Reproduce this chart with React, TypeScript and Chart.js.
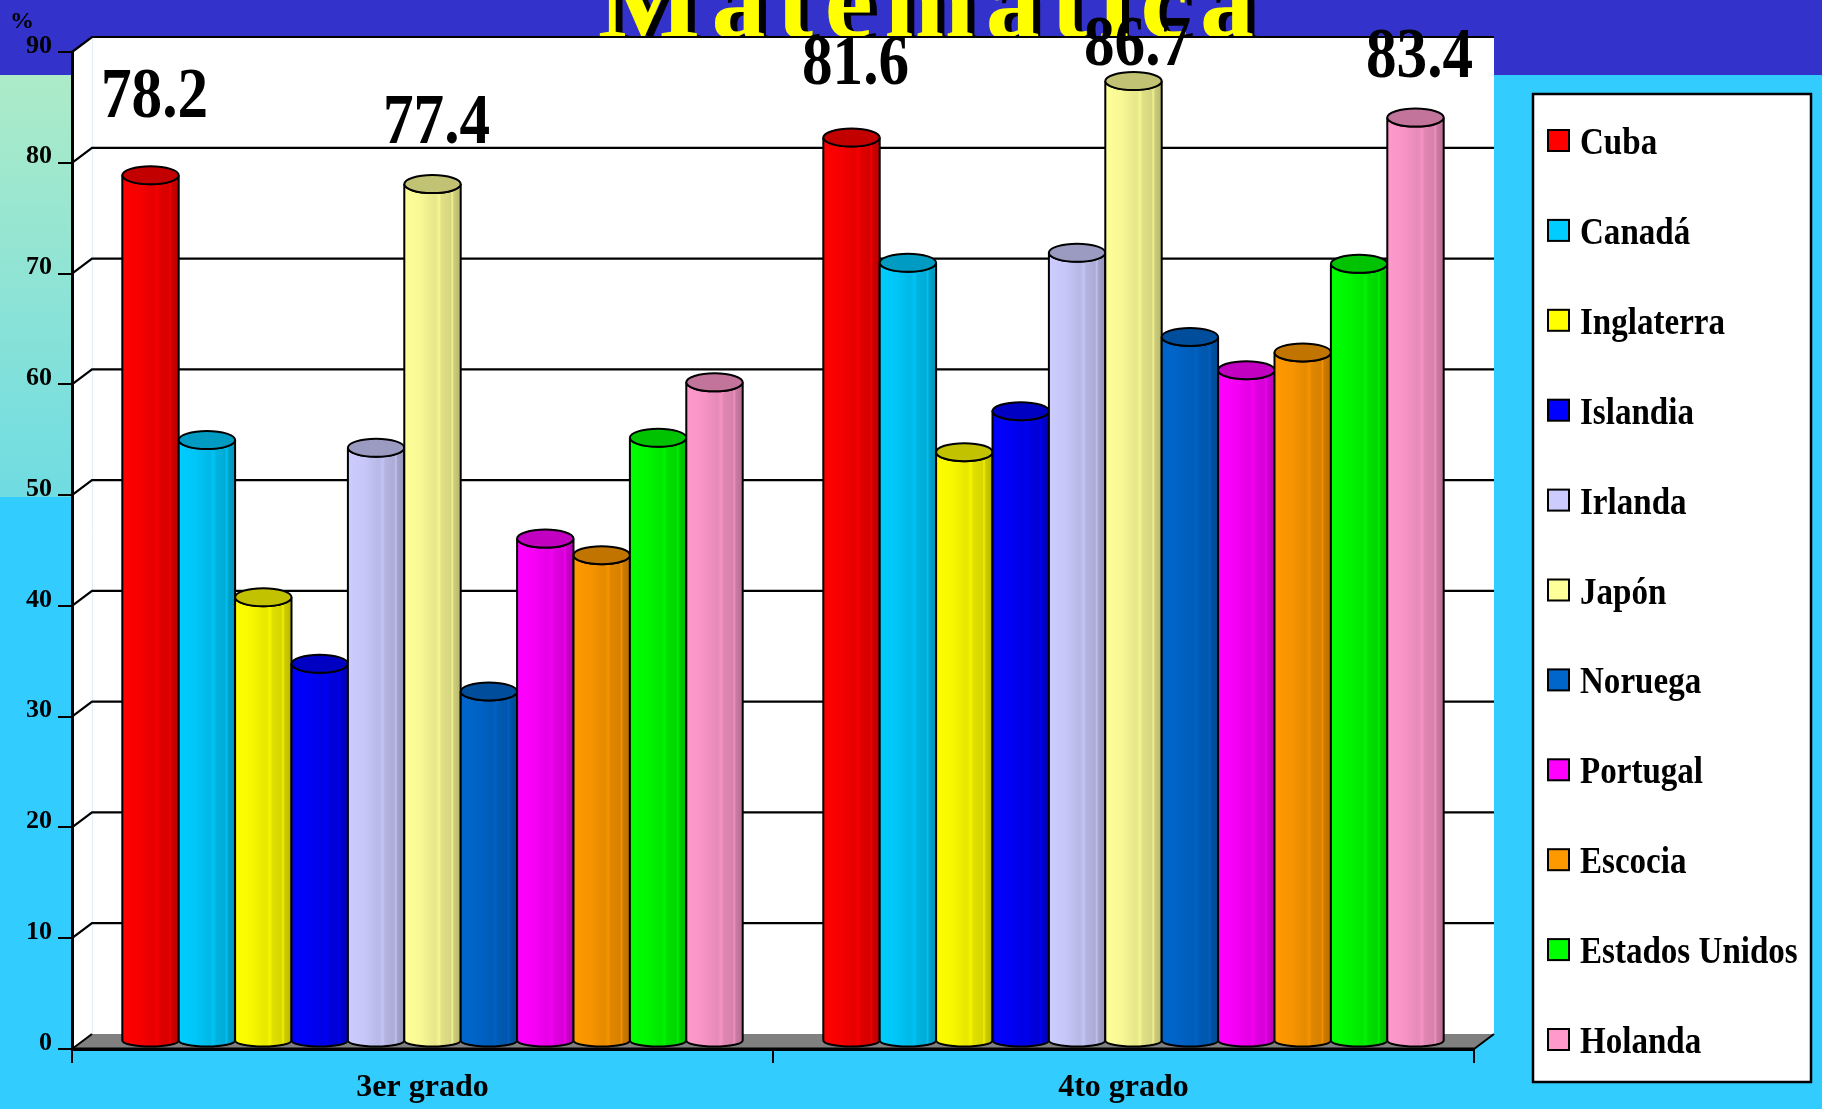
import React, { useEffect, useRef } from 'react';
import { Chart, registerables } from 'chart.js';

Chart.register(...registerables);

const W = 1822;
const H = 1109;

const TITLE = 'Matemática';
const Y_UNIT = '%';
const CATEGORIES = ['3er grado', '4to grado'];
const COUNTRIES = [
  'Cuba',
  'Canadá',
  'Inglaterra',
  'Islandia',
  'Irlanda',
  'Japón',
  'Noruega',
  'Portugal',
  'Escocia',
  'Estados Unidos',
  'Holanda',
];
const GRADE_3 = [78.2, 54.3, 40.1, 34.1, 53.6, 77.4, 31.6, 45.4, 43.9, 54.5, 59.5];
const GRADE_4 = [81.6, 70.3, 53.2, 56.9, 71.2, 86.7, 63.6, 60.6, 62.2, 70.2, 83.4];
const COLORS = [
  '#FF0000',
  '#00CCFF',
  '#FFFF00',
  '#0000FF',
  '#CCCCFF',
  '#FFFF99',
  '#0066CC',
  '#FF00FF',
  '#FF9900',
  '#00FF00',
  '#FF99CC',
];
const Y_MIN = 0;
const Y_MAX = 90;
const Y_STEP = 10;
const LABEL_THRESHOLD = 75; // only values above this get a value label

// styling / layout constants
const SERIF = '"Liberation Serif", "Times New Roman", serif';
const DEPTH_X = 20;
const DEPTH_Y = 15;
const PLOT_LEFT = 72;
const PLOT_RIGHT = 1474;
const PLOT_TOP = 52;
const PLOT_BOTTOM = 1049;
const LABEL_LIFT: Record<string, number> = { '0:0': 58, '5:0': 41, '0:1': 54, '5:1': 16, '10:1': 41 };

function shade(hex: string, f: number): string {
  const n = parseInt(hex.slice(1), 16);
  const r = Math.max(0, Math.min(255, Math.round(((n >> 16) & 255) * f)));
  const g = Math.max(0, Math.min(255, Math.round(((n >> 8) & 255) * f)));
  const b = Math.max(0, Math.min(255, Math.round((n & 255) * f)));
  return `rgb(${r},${g},${b})`;
}

function drawCylinder(ctx: CanvasRenderingContext2D, cx: number, top: number, bottom: number, width: number, color: string) {
  const hw = width / 2;
  const ryT = 9;
  const ryB = 6;
  const g = ctx.createLinearGradient(cx - hw, 0, cx + hw, 0);
  g.addColorStop(0, shade(color, 1.0));
  g.addColorStop(0.3, shade(color, 0.97));
  g.addColorStop(0.55, shade(color, 0.9));
  g.addColorStop(0.62, shade(color, 0.96));
  g.addColorStop(0.66, shade(color, 0.88));
  g.addColorStop(0.82, shade(color, 0.84));
  g.addColorStop(0.85, shade(color, 0.95));
  g.addColorStop(0.88, shade(color, 0.8));
  g.addColorStop(1, shade(color, 0.72));
  ctx.beginPath();
  ctx.moveTo(cx - hw, top);
  ctx.lineTo(cx - hw, bottom);
  ctx.ellipse(cx, bottom, hw, ryB, 0, Math.PI, 0, true);
  ctx.lineTo(cx + hw, top);
  ctx.ellipse(cx, top, hw, ryT, 0, 0, Math.PI, false);
  ctx.closePath();
  ctx.fillStyle = g;
  ctx.fill();
  ctx.lineWidth = 2;
  ctx.strokeStyle = '#000';
  ctx.stroke();
  // cap
  ctx.beginPath();
  ctx.ellipse(cx, top, hw, ryT, 0, 0, Math.PI * 2);
  ctx.fillStyle = shade(color, 0.76);
  ctx.fill();
  ctx.stroke();
}

const scenePlugin = {
  id: 'scene3d',
  beforeDraw(chart: any) {
    const ctx: CanvasRenderingContext2D = chart.ctx;
    const { left, right, top, bottom } = chart.chartArea;
    ctx.save();
    // slide background
    ctx.fillStyle = '#33CCFF';
    ctx.fillRect(0, 0, W, H);
    ctx.fillStyle = '#3333CC';
    ctx.fillRect(0, 0, W, 75);
    const mint = ctx.createLinearGradient(0, 75, 0, 497);
    mint.addColorStop(0, '#ADEBC8');
    mint.addColorStop(1, '#6FDCE2');
    ctx.fillStyle = mint;
    ctx.fillRect(0, 75, left, 422);

    // title (letter spaced, shadowed)
    ctx.font = `bold 108px ${SERIF}`;
    ctx.textBaseline = 'alphabetic';
    ctx.textAlign = 'left';
    const chars = Array.from(TITLE);
    const widths = chars.map((c) => ctx.measureText(c).width);
    const nat = widths.reduce((a, b) => a + b, 0);
    const tx0 = 598;
    const tx1 = 1254;
    const gap = (tx1 - tx0 - nat) / (chars.length - 1);
    const drawTitle = (dx: number, dy: number, col: string) => {
      ctx.fillStyle = col;
      let x = tx0;
      chars.forEach((c, i) => {
        ctx.fillText(c, x + dx, 37 + dy);
        x += widths[i] + gap;
      });
    };
    drawTitle(7, 3, '#000');
    drawTitle(0, 0, '#FFFF00');

    // walls
    const bx = right + DEPTH_X;
    const ty = top - DEPTH_Y;
    const fy = bottom - DEPTH_Y;
    ctx.fillStyle = '#FFFFFF';
    ctx.beginPath();
    ctx.moveTo(left, top);
    ctx.lineTo(left + DEPTH_X, ty);
    ctx.lineTo(bx, ty);
    ctx.lineTo(bx, fy);
    ctx.lineTo(right, bottom);
    ctx.lineTo(left, bottom);
    ctx.closePath();
    ctx.fill();
    // back wall left edge (faint)
    ctx.strokeStyle = '#E2EEF4';
    ctx.lineWidth = 1;
    ctx.beginPath();
    ctx.moveTo(left + DEPTH_X + 0.5, ty);
    ctx.lineTo(left + DEPTH_X + 0.5, fy);
    ctx.stroke();
    // floor
    ctx.fillStyle = '#808080';
    ctx.beginPath();
    ctx.moveTo(left, bottom);
    ctx.lineTo(left + DEPTH_X, fy);
    ctx.lineTo(bx, fy);
    ctx.lineTo(right, bottom);
    ctx.closePath();
    ctx.fill();
    ctx.strokeStyle = '#000';
    ctx.lineWidth = 2;
    ctx.beginPath();
    ctx.moveTo(left, bottom);
    ctx.lineTo(left + DEPTH_X, fy);
    ctx.moveTo(right, bottom);
    ctx.lineTo(bx, fy);
    ctx.stroke();
    // gridlines on the back wall
    const ys = chart.scales.y;
    ctx.lineWidth = 2.2;
    for (let v = Y_MIN + Y_STEP; v <= Y_MAX; v += Y_STEP) {
      const y = ys.getPixelForValue(v);
      ctx.beginPath();
      ctx.moveTo(left, y);
      ctx.lineTo(left + DEPTH_X, y - DEPTH_Y);
      ctx.lineTo(bx, y - DEPTH_Y);
      ctx.stroke();
    }
    ctx.restore();
  },
  beforeDatasetDraw() {
    return false;
  },
  afterDatasetsDraw(chart: any) {
    const ctx: CanvasRenderingContext2D = chart.ctx;
    const { left, right, bottom } = chart.chartArea;
    ctx.save();
    const n = chart.data.datasets.length;
    for (let c = 0; c < CATEGORIES.length; c++) {
      for (let i = 0; i < n; i++) {
        const meta = chart.getDatasetMeta(i);
        const el = meta.data[c];
        if (!el) continue;
        const p = el.getProps(['x', 'y', 'base', 'width'], true);
        const cx = p.x + DEPTH_X / 2;
        drawCylinder(ctx, cx, p.y - DEPTH_Y / 2, p.base - DEPTH_Y / 2, p.width, COLORS[i]);
      }
    }
    // front floor edge over the bar feet
    ctx.strokeStyle = '#000';
    ctx.lineWidth = 3;
    ctx.beginPath();
    ctx.moveTo(left, bottom);
    ctx.lineTo(right, bottom);
    ctx.stroke();

    // value labels
    ctx.fillStyle = '#000';
    ctx.font = `bold 72px ${SERIF}`;
    ctx.textAlign = 'center';
    ctx.textBaseline = 'alphabetic';
    for (let i = 0; i < n; i++) {
      const meta = chart.getDatasetMeta(i);
      const data = chart.data.datasets[i].data as number[];
      data.forEach((v, c) => {
        if (v <= LABEL_THRESHOLD) return;
        const el = meta.data[c];
        const p = el.getProps(['x', 'y'], true);
        const lift = LABEL_LIFT[`${i}:${c}`] ?? 45;
        ctx.save();
        ctx.translate(p.x + DEPTH_X / 2 + 4, p.y - DEPTH_Y / 2 - lift);
        ctx.scale(0.85, 1);
        ctx.fillText(v.toFixed(1), 0, 0);
        ctx.restore();
      });
    }
    ctx.restore();
  },
  afterDraw(chart: any) {
    const ctx: CanvasRenderingContext2D = chart.ctx;
    ctx.save();
    // unit label
    ctx.fillStyle = '#000';
    ctx.font = `bold 24px ${SERIF}`;
    ctx.textAlign = 'center';
    ctx.textBaseline = 'middle';
    ctx.fillText(Y_UNIT, 22, 22);

    // legend
    const lx = 1533;
    const ly = 94;
    const lw = 278;
    const lh = 988;
    ctx.fillStyle = '#FFFFFF';
    ctx.fillRect(lx, ly, lw, lh);
    ctx.strokeStyle = '#000';
    ctx.lineWidth = 2.5;
    ctx.strokeRect(lx, ly, lw, lh);
    const step = 89.9;
    const y0 = 141;
    ctx.font = `bold 38px ${SERIF}`;
    ctx.textAlign = 'left';
    ctx.textBaseline = 'alphabetic';
    COUNTRIES.forEach((name, i) => {
      const cy = y0 + i * step;
      ctx.fillStyle = COLORS[i];
      ctx.fillRect(1548, cy - 11, 21, 21);
      ctx.lineWidth = 2;
      ctx.strokeStyle = '#000';
      ctx.strokeRect(1548, cy - 11, 21, 21);
      ctx.fillStyle = '#000';
      ctx.save();
      ctx.translate(1580, cy + 13);
      ctx.scale(0.87, 1);
      ctx.fillText(name, 0, 0);
      ctx.restore();
    });
    ctx.restore();
  },
};

export default function App() {
  const ref = useRef<HTMLCanvasElement | null>(null);
  useEffect(() => {
    document.body.style.margin = '0';
    document.body.style.background = '#33CCFF';
    const canvas = ref.current;
    if (!canvas) return;
    const datasets = COUNTRIES.map((name, i) => ({
      label: name,
      data: [GRADE_3[i], GRADE_4[i]],
      backgroundColor: COLORS[i],
      borderWidth: 0,
      barPercentage: 1.0,
      categoryPercentage: 0.885,
    }));
    const chart = new Chart(canvas, {
      type: 'bar',
      data: { labels: CATEGORIES, datasets },
      options: {
        responsive: false,
        animation: false,
        devicePixelRatio: 1,
        layout: { padding: { top: PLOT_TOP, right: W - PLOT_RIGHT, left: 0, bottom: 0 } },
        plugins: {
          legend: { display: false },
          tooltip: { enabled: false },
          title: { display: false },
        },
        scales: {
          x: {
            type: 'category',
            offset: true,
            grid: {
              display: true,
              offset: true,
              drawOnChartArea: false,
              drawTicks: true,
              tickLength: 14,
              color: '#000',
              lineWidth: 2,
            },
            border: { display: true, color: '#000', width: 3 },
            ticks: {
              color: '#000',
              font: { family: SERIF, size: 32, weight: 'bold' },
              padding: 6,
              maxRotation: 0,
              autoSkip: false,
            },
            afterFit: (s: any) => {
              s.height = H - PLOT_BOTTOM;
            },
          },
          y: {
            min: Y_MIN,
            max: Y_MAX,
            ticks: {
              stepSize: Y_STEP,
              color: '#000',
              font: { family: SERIF, size: 26, weight: 'bold' },
              padding: 6,
              labelOffset: -6,
            },
            grid: {
              drawOnChartArea: false,
              drawTicks: true,
              tickLength: 14,
              color: '#000',
              lineWidth: 2,
            },
            border: { display: true, color: '#000', width: 3 },
            afterFit: (s: any) => {
              s.width = PLOT_LEFT;
            },
          },
        },
      } as any,
      plugins: [scenePlugin as any],
    });
    return () => chart.destroy();
  }, []);
  return (
    <div style={{ width: W, height: H, position: 'relative', overflow: 'hidden' }}>
      <canvas ref={ref} width={W} height={H} style={{ display: 'block', width: W, height: H }} />
    </div>
  );
}
